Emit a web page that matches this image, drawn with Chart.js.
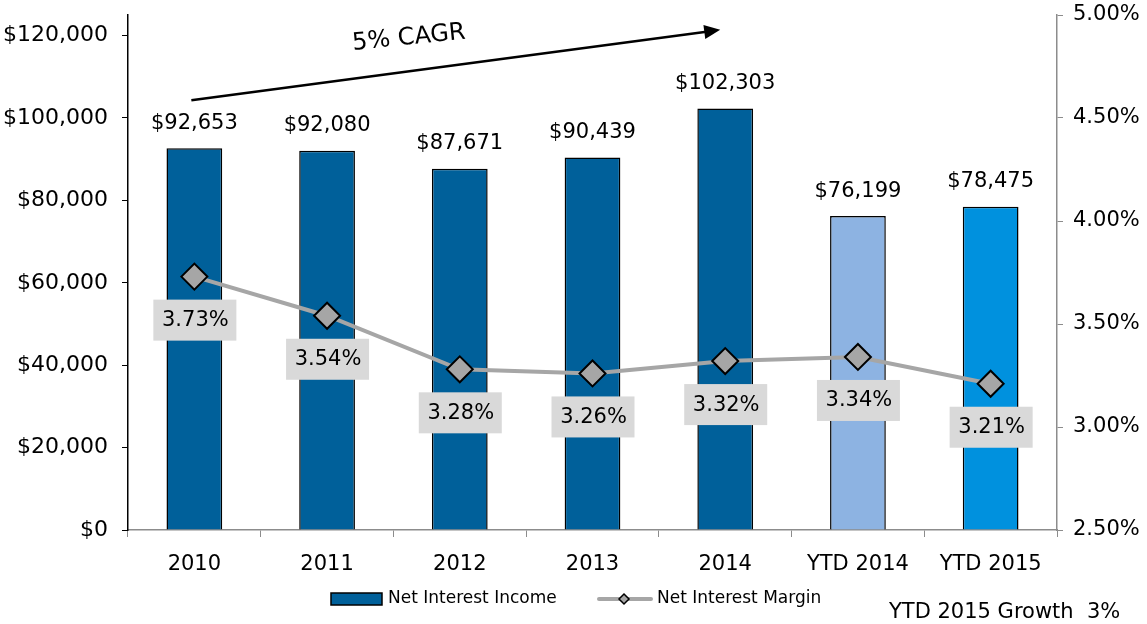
<!DOCTYPE html>
<html>
<head>
<meta charset="utf-8">
<style>
  html, body { margin: 0; padding: 0; background: #fff; }
  #wrap { width: 1147px; height: 624px; }
</style>
<script src="https://cdn.jsdelivr.net/npm/chart.js@4.4.1/dist/chart.umd.min.js"></script>
</head>
<body>
<div id="wrap"><canvas id="niiChart" width="1147" height="624"></canvas></div>
<script>
const categories = ['2010', '2011', '2012', '2013', '2014', 'YTD 2014', 'YTD 2015'];
const netInterestIncome = [92653, 92080, 87671, 90439, 102303, 76199, 78475];
const netInterestMargin = [3.73, 3.54, 3.28, 3.26, 3.32, 3.34, 3.21];
const barColors = ['#00609A', '#00609A', '#00609A', '#00609A', '#00609A', '#8DB3E2', '#0091DE'];
const incomeTicks = [0, 20000, 40000, 60000, 80000, 100000, 120000];
const marginTicks = [2.5, 3.0, 3.5, 4.0, 4.5, 5.0];

const FONT = "'DejaVu Sans', sans-serif";

const money = v => '$' + v.toLocaleString('en-US');

const labelsPlugin = {
  id: 'labels',
  afterDatasetsDraw(chart) {
    const ctx = chart.ctx;
    ctx.save();
    // bar value labels
    const barMeta = chart.getDatasetMeta(1);
    ctx.font = '21px ' + FONT;
    ctx.fillStyle = '#000';
    ctx.textAlign = 'center';
    ctx.textBaseline = 'middle';
    barMeta.data.forEach((el, i) => {
      ctx.fillText(money(netInterestIncome[i]), el.x, el.y - 25);
    });
    // margin labels in grey boxes
    const lineMeta = chart.getDatasetMeta(0);
    lineMeta.data.forEach((pt, i) => {
      const cy = pt.y + 43;
      ctx.fillStyle = '#D9D9D9';
      ctx.fillRect(pt.x - 41, cy - 20, 83, 41);
      ctx.fillStyle = '#000';
      ctx.fillText(netInterestMargin[i].toFixed(2) + '%', pt.x + 1, cy + 1);
    });
    ctx.restore();
  },
  afterDraw(chart) {
    const ctx = chart.ctx;
    const x = chart.scales.x, y = chart.scales.y;
    ctx.save();
    // CAGR arrow
    const x0 = x.getPixelForValue(0) - 3, y0 = y.getPixelForValue(104300);
    const x1 = x.getPixelForValue(4) - 5, y1 = y.getPixelForValue(121400);
    const ang = Math.atan2(y1 - y0, x1 - x0);
    ctx.strokeStyle = '#000';
    ctx.lineWidth = 2.5;
    ctx.beginPath();
    ctx.moveTo(x0, y0);
    ctx.lineTo(x1 - 12 * Math.cos(ang), y1 - 12 * Math.sin(ang));
    ctx.stroke();
    ctx.fillStyle = '#000';
    ctx.beginPath();
    ctx.moveTo(x1, y1);
    ctx.lineTo(x1 - 16 * Math.cos(ang) + 7 * Math.sin(ang), y1 - 16 * Math.sin(ang) - 7 * Math.cos(ang));
    ctx.lineTo(x1 - 16 * Math.cos(ang) - 7 * Math.sin(ang), y1 - 16 * Math.sin(ang) + 7 * Math.cos(ang));
    ctx.closePath();
    ctx.fill();
    ctx.translate(409, 38);
    ctx.rotate(-0.1);
    ctx.font = '24px ' + FONT;
    ctx.textAlign = 'center';
    ctx.textBaseline = 'middle';
    ctx.fillText('5% CAGR', 0, 0);
    ctx.restore();

    // legend
    ctx.save();
    ctx.font = '17px ' + FONT;
    ctx.textBaseline = 'middle';
    ctx.textAlign = 'left';
    const ly = 599;
    ctx.fillStyle = '#00609A';
    ctx.fillRect(331, 593, 51, 12);
    ctx.strokeStyle = '#000';
    ctx.lineWidth = 1.5;
    ctx.strokeRect(331, 593, 51, 12);
    ctx.fillStyle = '#000';
    ctx.fillText('Net Interest Income', 388, ly);
    ctx.strokeStyle = '#A6A6A6';
    ctx.lineWidth = 4;
    ctx.lineCap = 'round';
    ctx.beginPath();
    ctx.moveTo(599, ly);
    ctx.lineTo(651, ly);
    ctx.stroke();
    ctx.fillStyle = '#A6A6A6';
    ctx.strokeStyle = '#000';
    ctx.lineWidth = 1.5;
    ctx.beginPath();
    ctx.moveTo(624, ly - 5); ctx.lineTo(629, ly); ctx.lineTo(624, ly + 5); ctx.lineTo(619, ly);
    ctx.closePath();
    ctx.fill(); ctx.stroke();
    ctx.fillStyle = '#000';
    ctx.fillText('Net Interest Margin', 657, ly);
    ctx.font = '21px ' + FONT;
    ctx.fillText('YTD 2015 Growth  3%', 889, 613);
    ctx.restore();
  }
};

const fitY = w => s => { s.width = w; s.paddingTop = 0; s.paddingBottom = 0; };

new Chart(document.getElementById('niiChart').getContext('2d'), {
  data: {
    labels: categories,
    datasets: [{
      type: 'line',
      label: 'Net Interest Margin',
      data: netInterestMargin,
      yAxisID: 'y1',
      order: 0,
      borderColor: '#A6A6A6',
      borderWidth: 4,
      tension: 0,
      fill: false,
      pointStyle: 'rectRot',
      pointRadius: 13,
      pointBackgroundColor: '#A6A6A6',
      pointBorderColor: '#000',
      pointBorderWidth: 2,
    }, {
      type: 'bar',
      label: 'Net Interest Income',
      data: netInterestIncome,
      yAxisID: 'y',
      order: 1,
      backgroundColor: barColors,
      borderColor: '#000',
      borderWidth: 1.5,
      categoryPercentage: 1,
      barPercentage: 0.42,
    }]
  },
  options: {
    responsive: false,
    animation: false,
    layout: { padding: { top: 15, bottom: 34, left: 0, right: 0 } },
    plugins: {
      legend: { display: false },
      tooltip: { enabled: false },
    },
    scales: {
      x: {
        offset: true,
        grid: { offset: true, drawOnChartArea: false, drawTicks: true, tickLength: 7, color: '#8C8C8C' },
        border: { color: '#8C8C8C', width: 1.5 },
        ticks: { color: '#000', font: { family: FONT, size: 21 }, padding: 15, maxRotation: 0 },
        afterFit: s => { s.height = 60; s.paddingLeft = 0; s.paddingRight = 0; },
      },
      y: {
        position: 'left',
        min: 0,
        max: 125000,
        afterBuildTicks: s => { s.ticks = incomeTicks.map(v => ({ value: v })); },
        grid: { drawOnChartArea: false, drawTicks: true, tickLength: 6, color: '#000' },
        border: { color: '#000', width: 1.5 },
        ticks: { color: '#000', font: { family: FONT, size: 22 }, padding: 14, callback: v => money(v) },
        afterFit: fitY(128),
      },
      y1: {
        position: 'right',
        min: 2.5,
        max: 5.0,
        afterBuildTicks: s => { s.ticks = marginTicks.map(v => ({ value: v })); },
        grid: { drawOnChartArea: false, drawTicks: true, tickLength: 6, color: '#8C8C8C' },
        border: { color: '#8C8C8C', width: 1.5 },
        ticks: { color: '#000', font: { family: FONT, size: 21 }, padding: 10, callback: v => v.toFixed(2) + '%' },
        afterFit: fitY(90),
      }
    }
  },
  plugins: [labelsPlugin]
});
</script>
</body>
</html>
